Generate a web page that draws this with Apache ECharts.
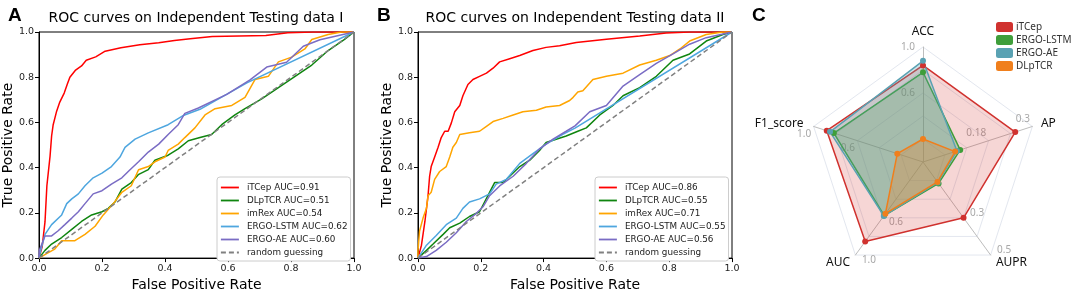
<!DOCTYPE html>
<html>
<head>
<meta charset="utf-8">
<script src="https://cdn.jsdelivr.net/npm/echarts@6.0.0/dist/echarts.min.js"></script>
<style>
html, body { margin: 0; padding: 0; background: #fff; }
#chart { width: 1072px; height: 297px; }
</style>
</head>
<body>
<div id="chart"></div>
<script>
// ===== ROC data, panel A (Independent Testing data I) =====
const namesA = ['iTCep AUC=0.91', 'DLpTCR AUC=0.51', 'imRex AUC=0.54', 'ERGO-LSTM AUC=0.62', 'ERGO-AE AUC=0.60', 'random guessing'];
const itcepA = [[0,0],[0.01,0.05],[0.019,0.16],[0.025,0.32],[0.035,0.45],[0.04,0.54],[0.045,0.59],[0.056,0.65],[0.066,0.69],[0.08,0.73],[0.09,0.77],[0.098,0.8],[0.115,0.83],[0.135,0.85],[0.15,0.875],[0.18,0.89],[0.21,0.915],[0.26,0.93],[0.32,0.944],[0.38,0.952],[0.43,0.962],[0.48,0.97],[0.55,0.98],[0.72,0.985],[0.79,0.997],[0.87,1],[1,1]];
const dlptcrA = [[0,0],[0.019,0.034],[0.04,0.062],[0.072,0.091],[0.104,0.127],[0.135,0.162],[0.167,0.191],[0.2,0.205],[0.22,0.22],[0.241,0.248],[0.263,0.305],[0.293,0.334],[0.315,0.369],[0.347,0.391],[0.368,0.433],[0.41,0.455],[0.442,0.483],[0.474,0.519],[0.511,0.533],[0.548,0.547],[0.58,0.59],[0.622,0.633],[0.654,0.661],[0.707,0.704],[0.76,0.754],[0.813,0.804],[0.866,0.854],[0.918,0.918],[0.97,0.967],[1,1]];
const imrexA = [[0,0],[0.024,0.02],[0.05,0.04],[0.072,0.077],[0.114,0.077],[0.146,0.105],[0.178,0.141],[0.204,0.191],[0.236,0.241],[0.263,0.291],[0.293,0.32],[0.316,0.391],[0.347,0.405],[0.368,0.426],[0.4,0.447],[0.41,0.476],[0.442,0.504],[0.463,0.533],[0.495,0.576],[0.527,0.633],[0.559,0.661],[0.612,0.675],[0.654,0.711],[0.686,0.79],[0.728,0.804],[0.76,0.868],[0.802,0.889],[0.844,0.925],[0.866,0.967],[0.918,0.989],[0.96,1],[1,1]];
const lstmA = [[0,0],[0.003,0.02],[0.019,0.105],[0.04,0.148],[0.072,0.191],[0.088,0.241],[0.104,0.262],[0.125,0.284],[0.146,0.32],[0.172,0.355],[0.2,0.376],[0.23,0.405],[0.257,0.447],[0.273,0.49],[0.305,0.526],[0.347,0.554],[0.41,0.59],[0.46,0.632],[0.511,0.658],[0.66,0.775],[1,1]];
const aeA = [[0,0],[0.001,0.034],[0.013,0.077],[0.019,0.098],[0.04,0.098],[0.06,0.12],[0.082,0.148],[0.104,0.177],[0.125,0.205],[0.146,0.241],[0.172,0.284],[0.2,0.298],[0.23,0.327],[0.263,0.355],[0.289,0.391],[0.316,0.426],[0.347,0.469],[0.38,0.504],[0.41,0.547],[0.442,0.59],[0.463,0.64],[0.506,0.664],[0.596,0.724],[0.67,0.788],[0.723,0.845],[0.786,0.866],[0.839,0.937],[0.892,0.966],[1,1]];

// ===== ROC data, panel B (Independent Testing data II) =====
const namesB = ['iTCep AUC=0.86', 'DLpTCR AUC=0.55', 'imRex AUC=0.71', 'ERGO-LSTM AUC=0.55', 'ERGO-AE AUC=0.56', 'random guessing'];
const itcepB = [[0,0],[0.011,0.057],[0.022,0.162],[0.032,0.276],[0.037,0.362],[0.042,0.405],[0.053,0.447],[0.064,0.49],[0.074,0.533],[0.085,0.561],[0.096,0.561],[0.106,0.597],[0.117,0.647],[0.133,0.675],[0.143,0.718],[0.159,0.768],[0.175,0.79],[0.196,0.804],[0.218,0.818],[0.239,0.84],[0.26,0.868],[0.292,0.882],[0.324,0.896],[0.366,0.918],[0.408,0.932],[0.451,0.939],[0.504,0.954],[0.6,0.968],[0.706,0.982],[0.79,0.996],[0.865,1],[1,1]];
const dlptcrB = [[0,0],[0.027,0.034],[0.048,0.062],[0.08,0.105],[0.101,0.134],[0.133,0.155],[0.164,0.184],[0.196,0.205],[0.212,0.248],[0.228,0.291],[0.244,0.334],[0.271,0.334],[0.292,0.362],[0.324,0.405],[0.356,0.433],[0.387,0.476],[0.408,0.511],[0.44,0.526],[0.472,0.54],[0.509,0.561],[0.536,0.576],[0.579,0.633],[0.621,0.675],[0.653,0.718],[0.706,0.754],[0.759,0.804],[0.812,0.875],[0.865,0.903],[0.918,0.96],[0.971,0.989],[1,1]];
const imrexB = [[0,0],[0,0.034],[0.005,0.12],[0.016,0.177],[0.027,0.22],[0.032,0.276],[0.042,0.291],[0.053,0.348],[0.069,0.383],[0.09,0.405],[0.101,0.447],[0.111,0.49],[0.122,0.511],[0.133,0.547],[0.164,0.554],[0.196,0.561],[0.218,0.583],[0.239,0.604],[0.271,0.618],[0.303,0.633],[0.334,0.647],[0.377,0.654],[0.408,0.668],[0.451,0.675],[0.483,0.697],[0.494,0.711],[0.509,0.735],[0.525,0.74],[0.557,0.79],[0.6,0.804],[0.653,0.818],[0.706,0.854],[0.759,0.875],[0.802,0.896],[0.834,0.925],[0.865,0.96],[0.918,0.989],[0.971,1],[1,1]];
const lstmB = [[0,0],[0.027,0.057],[0.058,0.1],[0.09,0.148],[0.122,0.177],[0.143,0.22],[0.164,0.248],[0.196,0.262],[0.228,0.284],[0.249,0.327],[0.281,0.348],[0.324,0.419],[0.366,0.462],[0.408,0.504],[0.461,0.547],[0.5,0.575],[1,1]];
const aeB = [[0,0],[0.027,0.007],[0.058,0.034],[0.09,0.07],[0.122,0.112],[0.154,0.162],[0.186,0.198],[0.207,0.227],[0.228,0.276],[0.26,0.319],[0.303,0.362],[0.345,0.419],[0.387,0.483],[0.43,0.526],[0.472,0.561],[0.5,0.585],[0.547,0.647],[0.6,0.675],[0.653,0.761],[0.706,0.811],[0.759,0.861],[0.812,0.903],[0.865,0.946],[0.918,0.975],[1,1]];

const diagonal = [[0,0],[1,1]];
const rocColors = ['#ff0000', '#0f850f', '#ffa500', '#4ea6df', '#7a6cc4', '#808080'];

// ===== radar data, panel C =====
const radarNames = ['ACC', 'F1_score', 'AUC', 'AUPR', 'AP'];
const radarMax = [1.0, 1.0, 1.0, 0.5, 0.3];
const radarModels = ['iTCep', 'ERGO-LSTM', 'ERGO-AE', 'DLpTCR'];
const radarITCep = [0.84, 0.88, 0.855, 0.30, 0.253];
const radarLSTM = [0.78, 0.815, 0.575, 0.115, 0.102];
const radarAE = [0.88, 0.85, 0.58, 0.11, 0.093];
const radarDLpTCR = [0.20, 0.235, 0.556, 0.107, 0.088];
const radarShown = [0.6, 1.0, 0.18, 0.3, 0.5];
const radarColors = ['#d0322f', '#3f9e3a', '#5aa2b3', '#f07f1c'];

const font = 'DejaVu Sans';

const makeAxis = (idx, isX) => ({
  type: 'value',
  gridIndex: idx,
  min: 0, max: 1, interval: 0.2,
  name: isX ? 'False Positive Rate' : 'True Positive Rate',
  nameLocation: 'middle',
  nameGap: isX ? 18 : 22,
  nameTextStyle: { fontFamily: font, fontSize: 14, color: '#000' },
  axisLine: { show: true, onZero: false, lineStyle: { color: '#000', width: 1 } },
  axisTick: { show: true, inside: false, length: 4, lineStyle: { color: '#000' } },
  axisLabel: { fontFamily: font, fontSize: 9.5, color: '#222', margin: 5, formatter: v => v.toFixed(1) },
  splitLine: { show: false }
});

const rocSeries = (curves, names, idx) => curves.map((d, i) => ({
  name: names[i],
  type: 'line',
  xAxisIndex: idx,
  yAxisIndex: idx,
  data: d,
  symbol: 'none',
  showSymbol: false,
  clip: true,
  lineStyle: { color: rocColors[i], width: 1.5, type: i === 5 ? [5, 3] : 'solid' },
  itemStyle: { color: rocColors[i] },
  z: 2 + i
}));

// matplotlib-like legend box: line handle only, no marker
const makeLegend = (names, left) => ({
  data: names,
  orient: 'vertical',
  left: left, top: 177,
  itemWidth: 18, itemHeight: 9, itemGap: 4,
  padding: [6, 3, 4, 3],
  backgroundColor: '#fff',
  borderColor: '#cccccc', borderWidth: 1, borderRadius: 3,
  itemStyle: { opacity: 0 },
  lineStyle: { width: 1.8 },
  textStyle: { fontFamily: font, fontSize: 8.8, color: '#222', padding: [0, 0, 0, 3] },
  selectedMode: false
});

const chart = echarts.init(document.getElementById('chart'));
chart.setOption({
  animation: false,
  backgroundColor: '#fff',
  title: [
    { text: 'A', left: 3, top: 1, textStyle: { fontFamily: 'Liberation Sans', fontWeight: 'bold', fontSize: 19, color: '#000' } },
    { text: 'B', left: 372, top: 1, textStyle: { fontFamily: 'Liberation Sans', fontWeight: 'bold', fontSize: 19, color: '#000' } },
    { text: 'C', left: 747, top: 1, textStyle: { fontFamily: 'Liberation Sans', fontWeight: 'bold', fontSize: 19, color: '#000' } },
    { text: 'ROC curves on Independent Testing data I', left: 196, top: 11, textAlign: 'center', padding: 0,
      textStyle: { fontFamily: font, fontWeight: 'normal', fontSize: 14, color: '#000' } },
    { text: 'ROC curves on Independent Testing data II', left: 575, top: 11, textAlign: 'center', padding: 0,
      textStyle: { fontFamily: font, fontWeight: 'normal', fontSize: 14, color: '#000' } }
  ],
  grid: [
    { left: 39, top: 32, width: 315, height: 234, show: true, borderColor: '#000', borderWidth: 1, backgroundColor: 'transparent' },
    { left: 418, top: 32, width: 314, height: 234, show: true, borderColor: '#000', borderWidth: 1, backgroundColor: 'transparent' }
  ],
  xAxis: [makeAxis(0, true), makeAxis(1, true)],
  yAxis: [makeAxis(0, false), makeAxis(1, false)],
  legend: [
    makeLegend(namesA, 217),
    makeLegend(namesB, 595),
    {
      data: radarModels,
      orient: 'vertical',
      left: 996, top: 22,
      itemWidth: 17, itemHeight: 10, itemGap: 3,
      icon: 'roundRect',
      padding: 0,
      textStyle: { fontFamily: 'Noto Sans', fontSize: 10, color: '#333', padding: [0, 0, 0, -2] },
      selectedMode: false
    }
  ],
  radar: {
    center: [923, 162],
    radius: 115,
    shape: 'polygon',
    splitNumber: 5,
    indicator: radarNames.map((n, i) => ({ name: n, min: 0, max: radarMax[i] })),
    axisName: { fontFamily: 'Noto Sans', fontSize: 12, color: '#111' },
    nameGap: 9,
    axisLine: { lineStyle: { color: '#bdbdbd', width: 1 } },
    splitLine: { lineStyle: { color: '#e3e7ef', width: 1 } },
    splitArea: { show: false },
    axisLabel: {
      show: true,
      fontFamily: 'Noto Sans', fontSize: 10, color: '#a8a8a8',
      formatter: v => {
        const r = Math.round(v * 100) / 100;
        if (radarShown.indexOf(r) < 0) return '';
        return r === 0.18 ? '0.18' : r.toFixed(1);
      }
    }
  },
  series: [
    ...rocSeries([itcepA, dlptcrA, imrexA, lstmA, aeA, diagonal], namesA, 0),
    ...rocSeries([itcepB, dlptcrB, imrexB, lstmB, aeB, diagonal], namesB, 1),
    {
      type: 'radar',
      symbol: 'circle',
      symbolSize: 6,
      data: [radarITCep, radarLSTM, radarAE, radarDLpTCR].map((v, i) => ({
        name: radarModels[i],
        value: v,
        lineStyle: { color: radarColors[i], width: 1.5 },
        itemStyle: { color: radarColors[i] },
        areaStyle: { color: radarColors[i], opacity: i === 0 ? 0.2 : 0.28 }
      }))
    }
  ]
});
</script>
</body>
</html>
